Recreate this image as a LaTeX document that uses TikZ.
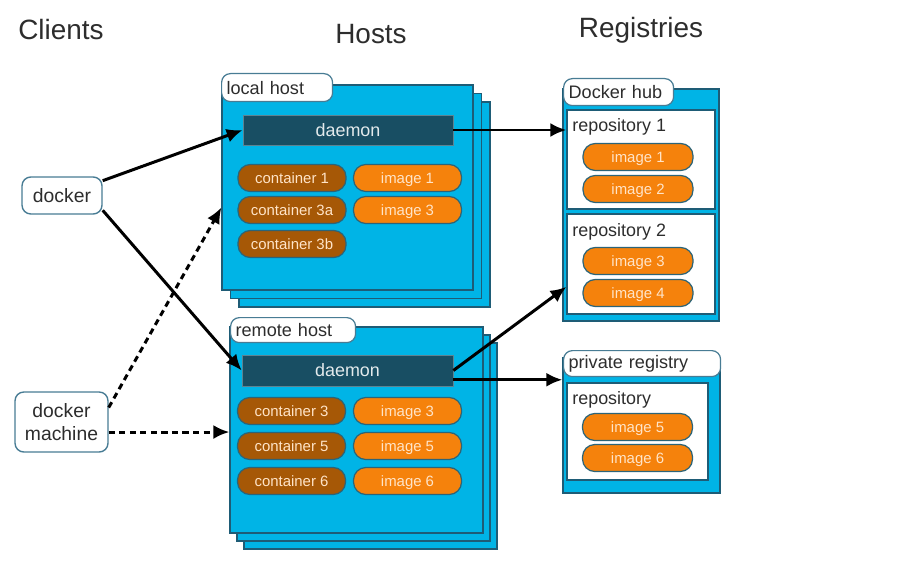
\documentclass[tikz,border=0pt]{standalone}
\usepackage{fontspec}
\setmainfont{Liberation Sans}
\usetikzlibrary{arrows.meta}

\definecolor{hostblue}{RGB}{0,180,230}
\definecolor{boxline}{RGB}{30,92,118}
\definecolor{tagline}{RGB}{72,124,148}
\definecolor{daemonfill}{RGB}{24,78,99}
\definecolor{contfill}{RGB}{166,88,6}
\definecolor{imgfill}{RGB}{245,130,12}
\definecolor{pillline}{RGB}{44,100,120}
\definecolor{pilltext}{RGB}{255,228,200}
\definecolor{textgray}{RGB}{45,45,45}

\tikzset{
  title/.style={font=\fontsize{15.9}{18}\selectfont, text=textgray},
  host/.style={draw=boxline, fill=hostblue, line width=0.7pt, inner sep=0pt},
  tag/.style={draw=tagline, fill=white, line width=0.7pt, rounded corners=5pt,
    anchor=north west, align=left, inner xsep=0.1cm, inner ysep=0pt,
    font=\fontsize{10.3}{12}\selectfont, text=textgray},
  client/.style={draw=tagline, fill=white, line width=0.8pt, rounded corners=5pt,
    align=center, inner sep=0pt, font=\fontsize{11}{13}\selectfont, text=textgray},
  daemon/.style={fill=daemonfill, draw=daemonfill!70!white, line width=0.4pt,
    inner sep=0pt, font=\fontsize{10.2}{12}\selectfont, text=white!88!daemonfill},
  pill/.style={draw=pillline, line width=0.7pt, rounded corners=7pt,
    minimum width=2.16cm, minimum height=0.54cm, inner sep=0pt,
    text height=1.55ex, text depth=0.35ex,
    font=\fontsize{8.5}{10}\selectfont, text=pilltext},
  cont/.style={pill, fill=contfill},
  img/.style={pill, fill=imgfill},
  repo/.style={draw=boxline, fill=white, line width=0.7pt, inner sep=0pt},
  repotext/.style={anchor=west, inner sep=0pt, font=\fontsize{10.2}{12}\selectfont, text=textgray},
  conn/.style={-{Latex[length=3.2mm,width=2.8mm]}, line width=1.7pt, black},
  dashconn/.style={conn, dash pattern=on 3.5pt off 2.5pt}
}

\begin{document}
\begin{tikzpicture}[x=0.02cm, y=-0.02cm]
  \useasboundingbox (0,0) rectangle (911,567);

  % column titles
  \node[title] (clients) at (61,30) {Clients};
  \node[title] (hosts) at (371,34) {Hosts};
  \node[title] (registries) at (641,30) {Registries};

  % clients
  \node[client, minimum width=1.6cm, minimum height=0.74cm] (docker) at (62,195.5) {docker};
  \node[client, minimum width=1.86cm, minimum height=1.2cm] (dm) at (61.5,422) {docker\\machine};

  % local host
  \node[host, minimum width=5.02cm, minimum height=4.1cm] (lhost3) at (364.5,204.5) {};
  \node[host, minimum width=5.02cm, minimum height=4.1cm] (lhost2) at (356,196) {};
  \node[host, minimum width=5.02cm, minimum height=4.1cm] (lhost) at (347.5,187.5) {};
  \node[tag, text width=2.02cm, minimum height=0.56cm] (ltag) at (221,73) {local host};
  \node[daemon, minimum width=4.2cm, minimum height=0.6cm] (ldaemon) at (348,130) {daemon};
  \node[cont] (lc1) at (292,178) {container 1};
  \node[cont] (lc3a) at (292,210) {container 3a};
  \node[cont] (lc3b) at (292,244) {container 3b};
  \node[img] (li1) at (407.5,178) {image 1};
  \node[img] (li3) at (407.5,210) {image 3};

  % remote host
  \node[host, minimum width=5.06cm, minimum height=4.12cm] (rhost3) at (370.5,446) {};
  \node[host, minimum width=5.06cm, minimum height=4.12cm] (rhost2) at (363.5,438) {};
  \node[host, minimum width=5.06cm, minimum height=4.12cm] (rhost) at (356.5,430) {};
  \node[tag, text width=2.3cm, minimum height=0.5cm] (rtag) at (230,317) {remote host};
  \node[daemon, minimum width=4.22cm, minimum height=0.62cm] (rdaemon) at (347.5,370.5) {daemon};
  \node[cont] (rc3) at (291.5,411) {container 3};
  \node[cont] (rc5) at (291.5,446) {container 5};
  \node[cont] (rc6) at (291.5,481) {container 6};
  \node[img] (ri3) at (407.5,411) {image 3};
  \node[img] (ri5) at (407.5,446) {image 5};
  \node[img] (ri6) at (407.5,481) {image 6};

  % Docker hub
  \node[host, minimum width=3.12cm, minimum height=4.64cm] (hub) at (641,205) {};
  \node[tag, text width=2.0cm, minimum height=0.54cm] (hubtag) at (563,78) {Docker hub};
  \node[repo, minimum width=2.96cm, minimum height=1.98cm] (repo1) at (641,159.5) {};
  \node[repotext] (repo1t) at (572,127) {repository 1};
  \node[img, minimum width=2.2cm] (h1) at (638,157) {image 1};
  \node[img, minimum width=2.2cm] (h2) at (638,189) {image 2};
  \node[repo, minimum width=2.96cm, minimum height=2.0cm] (repo2) at (641,264) {};
  \node[repotext] (repo2t) at (572,232) {repository 2};
  \node[img, minimum width=2.2cm] (h3) at (638,261) {image 3};
  \node[img, minimum width=2.2cm] (h4) at (638,293) {image 4};

  % private registry
  \node[host, minimum width=3.14cm, minimum height=2.7cm] (preg) at (641.5,425.5) {};
  \node[tag, text width=2.94cm, minimum height=0.52cm] (pregtag) at (563,350) {private registry};
  \node[repo, minimum width=2.82cm, minimum height=1.94cm] (prepo) at (637.5,431.5) {};
  \node[repotext] (prepot) at (572,400) {repository};
  \node[img, minimum width=2.2cm] (p5) at (637.5,427) {image 5};
  \node[img, minimum width=2.2cm] (p6) at (637.5,458) {image 6};

  \begin{scope}[conn]
    \draw (docker.20) to (ldaemon.west);
    \draw (docker.-20) to (rdaemon.west);
    \draw[dashconn] (dm.17) to (lhost.189);
    \draw[dashconn] (dm.-12) to (dm.-12 -| rhost.west);
    \draw (ldaemon.east) to (ldaemon.east -| repo1.west);
    \draw (rdaemon.east) to (repo2.197);
    \draw (rdaemon.-5) to (rdaemon.-5 -| preg.west);
  \end{scope}
\end{tikzpicture}
\end{document}
